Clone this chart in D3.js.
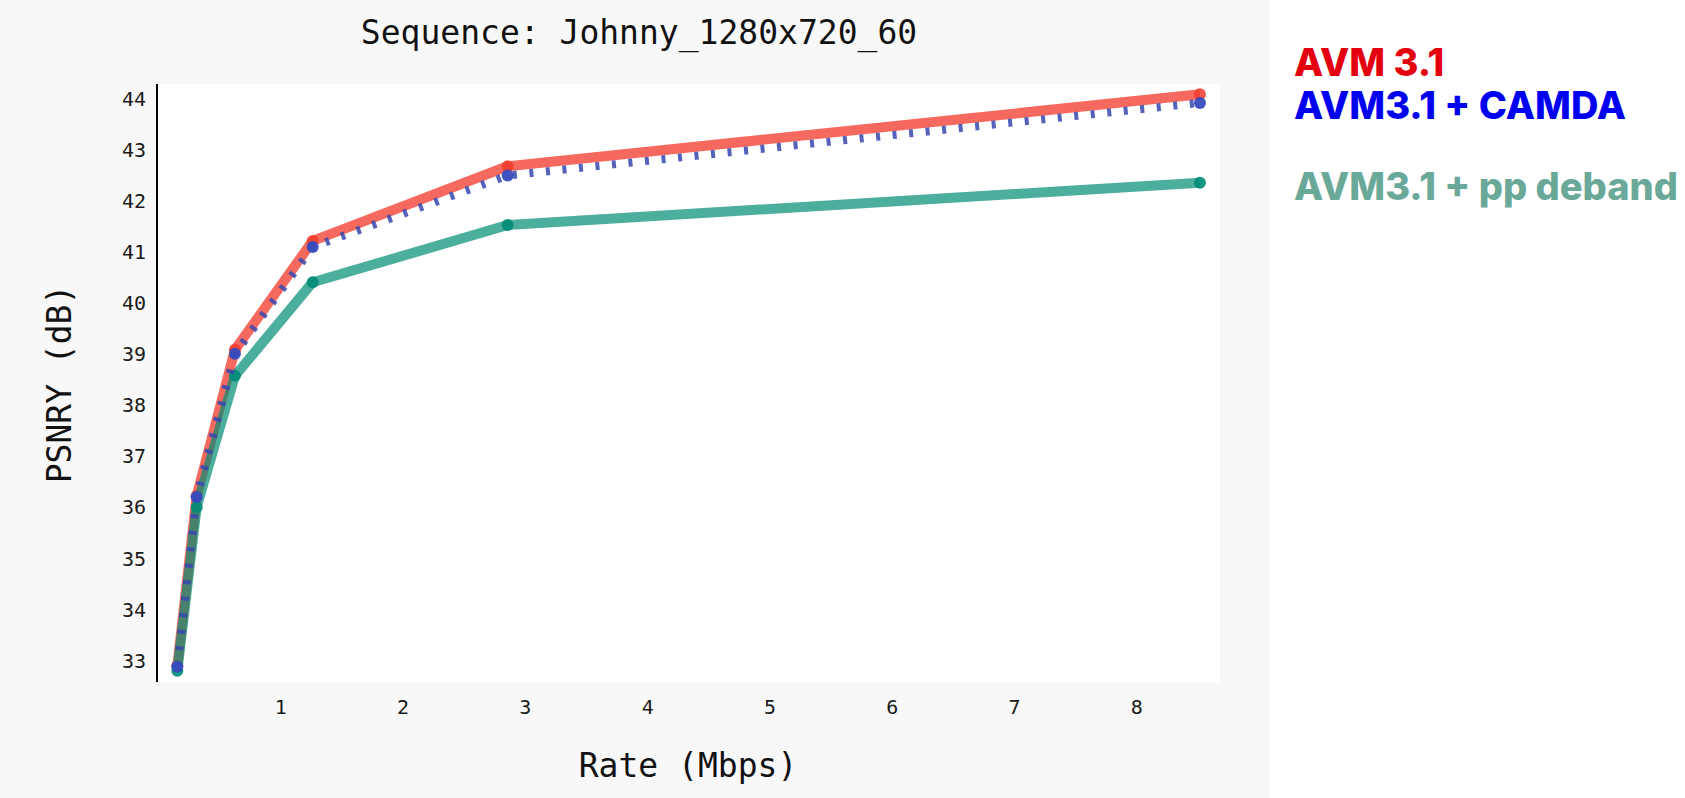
<!DOCTYPE html>
<html lang="en">
<head>
  <meta charset="UTF-8">
  <title>Johnny RD curves</title>
  <style>
    body { margin: 0; background: #fff; }
    .tick-label { font-family: "DejaVu Sans Mono", monospace; font-size: 20px; fill: #1a1a1a; }
    .axis-title { font-family: "DejaVu Sans Mono", monospace; font-size: 33px; fill: #111; }
    .legend { font-family: "Inter", sans-serif; font-weight: 800; font-size: 38px; }
  </style>
  <script src="https://d3js.org/d3.v7.min.js"></script>
</head>
<body>
<svg id="chart"></svg>
<script>
  // data
  var rates  = [0.154, 0.312, 0.625, 1.261, 2.855, 8.516];
  var avm31  = [32.90, 36.22, 39.08, 41.21, 42.67, 44.08];
  var camda  = [32.88, 36.20, 39.00, 41.09, 42.49, 43.91];
  var deband = [32.80, 36.00, 38.57, 40.40, 41.52, 42.35];
  var xTicks = [1, 2, 3, 4, 5, 6, 7, 8];
  var yTicks = [33, 34, 35, 36, 37, 38, 39, 40, 41, 42, 43, 44];
  var legendNames = ['AVM 3.1', 'AVM3.1 + CAMDA', 'AVM3.1 + pp deband'];

  var width = 1685, height = 798;
  var plot = { left: 157, right: 1220, top: 84, bottom: 682 };

  var svg = d3.select('#chart').attr('width', width).attr('height', height);

  // grey figure panel + white axes area
  svg.append('rect').attr('x', 0).attr('y', 0).attr('width', 1270).attr('height', height).attr('fill', '#f8f8f8');
  svg.append('rect').attr('x', plot.left).attr('y', plot.top)
    .attr('width', plot.right - plot.left).attr('height', plot.bottom - plot.top).attr('fill', '#fff');

  var x = d3.scaleLinear().domain([0, 8.68]).range([158.5, plot.right]);
  var y = d3.scaleLinear().domain([32.58, 44.28]).range([plot.bottom, plot.top]);

  // left spine
  svg.append('line').attr('x1', plot.left).attr('x2', plot.left)
    .attr('y1', plot.top).attr('y2', plot.bottom).attr('stroke', '#000').attr('stroke-width', 2);

  // tick labels (no tick marks)
  svg.selectAll('.ytick').data(yTicks).enter().append('text')
    .attr('class', 'tick-label')
    .attr('x', 146).attr('y', function(d){ return y(d); })
    .attr('dy', '0.36em').attr('text-anchor', 'end')
    .text(function(d){ return d; });
  svg.selectAll('.xtick').data(xTicks).enter().append('text')
    .attr('class', 'tick-label')
    .attr('x', function(d){ return x(d); }).attr('y', 714)
    .attr('text-anchor', 'middle')
    .text(function(d){ return d; });

  // titles
  svg.append('text').attr('class', 'axis-title').attr('x', 639).attr('y', 44)
    .attr('text-anchor', 'middle').text('Sequence: Johnny_1280x720_60');
  svg.append('text').attr('class', 'axis-title').attr('x', 688).attr('y', 777)
    .attr('text-anchor', 'middle').text('Rate (Mbps)');
  svg.append('text').attr('class', 'axis-title')
    .attr('transform', 'translate(71,384) rotate(-90)')
    .attr('text-anchor', 'middle').text('PSNRY (dB)');

  // series
  var series = [
    { vals: avm31,  line: 'rgba(244,67,54,0.8)',  width: 10, dash: null,     dot: 'rgba(240,60,45,0.85)' },
    { vals: deband, line: 'rgba(0,140,115,0.7)',  width: 10, dash: null,     dot: 'rgba(0,140,120,0.9)' },
    { vals: camda,  line: 'rgba(55,70,175,0.85)', width: 8,  dash: '4,12.6', dot: 'rgba(55,75,190,0.95)' }
  ];

  var line = d3.line()
    .x(function(d){ return x(d[0]); })
    .y(function(d){ return y(d[1]); });

  series.forEach(function(s) {
    var pts = rates.map(function(r, i){ return [r, s.vals[i]]; });
    var g = svg.append('g');
    g.append('path').datum(pts)
      .attr('d', line)
      .attr('fill', 'none')
      .attr('stroke', s.line)
      .attr('stroke-width', s.width)
      .attr('stroke-linejoin', 'round')
      .attr('stroke-dasharray', s.dash);
    g.selectAll('circle').data(pts).enter().append('circle')
      .attr('cx', function(d){ return x(d[0]); })
      .attr('cy', function(d){ return y(d[1]); })
      .attr('r', 6)
      .attr('fill', s.dot);
  });

  // legend text on the right
  var legendColors = ['#e3000f', '#0000f0', '#6aa899'];
  var legendY = [76, 119, 200];
  svg.selectAll('.legend').data(legendNames).enter().append('text')
    .attr('class', 'legend')
    .attr('x', 1294)
    .attr('y', function(d, i){ return legendY[i]; })
    .attr('fill', function(d, i){ return legendColors[i]; })
    .text(function(d){ return d; });
</script>
</body>
</html>
